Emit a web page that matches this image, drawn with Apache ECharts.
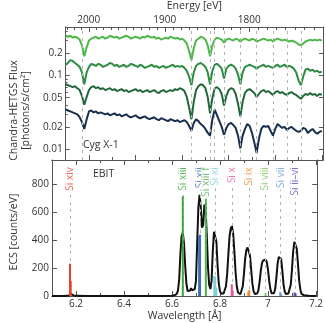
<!DOCTYPE html>
<html>
<head>
<meta charset="utf-8">
<script src="https://cdn.jsdelivr.net/npm/echarts@6/dist/echarts.min.js"></script>
<style>
html, body { margin: 0; padding: 0; background: #fff; }
#chart { width: 326px; height: 323px; }
</style>
</head>
<body>
<div id="chart"></div>
<script>
// wavelength grid of the Chandra spectra [A]
var wl = [
  6.10, 6.11, 6.12, 6.13, 6.14, 6.15, 6.16, 6.17, 6.18, 6.19,
  6.20, 6.21, 6.22, 6.23, 6.24, 6.25, 6.26, 6.27, 6.28, 6.29,
  6.30, 6.31, 6.32, 6.33, 6.34, 6.35, 6.36, 6.37, 6.38, 6.39,
  6.40, 6.41, 6.42, 6.43, 6.44, 6.45, 6.46, 6.47, 6.48, 6.49,
  6.50, 6.51, 6.52, 6.53, 6.54, 6.55, 6.56, 6.57, 6.58, 6.59,
  6.60, 6.61, 6.62, 6.63, 6.64, 6.65, 6.66, 6.67, 6.68, 6.69,
  6.70, 6.71, 6.72, 6.73, 6.74, 6.75, 6.76, 6.77, 6.78, 6.79,
  6.80, 6.81, 6.82, 6.83, 6.84, 6.85, 6.86, 6.87, 6.88, 6.89,
  6.90, 6.91, 6.92, 6.93, 6.94, 6.95, 6.96, 6.97, 6.98, 6.99,
  7.00, 7.01, 7.02, 7.03, 7.04, 7.05, 7.06, 7.07, 7.08, 7.09,
  7.10, 7.11, 7.12, 7.13, 7.14, 7.15, 7.16, 7.17, 7.18, 7.19, 7.20
];

// Cyg X-1 fluxes [photons/s/cm2], four observations
var fluxA = [
  .346, .336, .346, .326, .336, .326, .307, .256, .183, .241,
  .298, .316, .326, .336, .316, .326, .336, .316, .326, .346,
  .336, .326, .336, .316, .326, .336, .346, .336, .316, .326,
  .336, .326, .316, .336, .326, .346, .336, .326, .336, .316,
  .326, .307, .316, .326, .316, .336, .326, .316, .326, .307,
  .316, .298, .272, .213, .162, .234, .298, .316, .336, .326,
  .307, .256, .183, .256, .307, .326, .316, .307, .280, .307,
  .316, .307, .298, .316, .307, .289, .307, .316, .307, .298,
  .316, .307, .289, .298, .307, .316, .307, .298, .307, .289,
  .307, .316, .307, .298, .307, .298, .289, .298, .289, .280,
  .264, .256, .272, .289, .298, .307, .298, .307, .298, .307, .298
];
var fluxB = [
  .140, .148, .162, .158, .148, .140, .131, .110, .076, .110,
  .131, .144, .140, .135, .144, .140, .131, .135, .140, .148,
  .144, .135, .140, .131, .135, .140, .131, .135, .144, .140,
  .135, .131, .140, .135, .127, .131, .135, .140, .131, .135,
  .127, .131, .135, .127, .131, .135, .140, .131, .135, .131,
  .135, .127, .116, .097, .074, .110, .135, .144, .148, .140,
  .131, .110, .076, .116, .140, .144, .135, .124, .091, .124,
  .135, .140, .135, .124, .103, .076, .110, .131, .135, .140,
  .135, .131, .124, .131, .135, .140, .131, .135, .131, .127,
  .135, .140, .131, .135, .140, .131, .135, .131, .124, .110,
  .086, .074, .097, .120, .124, .116, .120, .113, .116, .110, .113
];
var fluxC = [
  .0761, .0739, .0717, .0695, .0717, .0674, .0635, .0529, .0403, .0513,
  .0635, .0695, .0717, .0674, .0695, .0654, .0674, .0635, .0654, .0674,
  .0635, .0654, .0616, .0635, .0654, .0616, .0635, .0597, .0616, .0635,
  .0654, .0616, .0635, .0597, .0616, .0635, .0597, .0616, .0635, .0597,
  .0580, .0616, .0635, .0597, .0616, .0635, .0616, .0654, .0635, .0674,
  .0654, .0616, .0513, .0368, .0256, .0441, .0635, .0717, .0761, .0739,
  .0674, .0513, .0307, .0498, .0674, .0695, .0654, .0562, .0391, .0529,
  .0635, .0674, .0654, .0562, .0415, .0280, .0441, .0580, .0635, .0654,
  .0616, .0580, .0513, .0562, .0616, .0635, .0597, .0616, .0580, .0546,
  .0597, .0616, .0580, .0597, .0562, .0546, .0580, .0597, .0562, .0546,
  .0513, .0483, .0529, .0562, .0546, .0580, .0546, .0562, .0529, .0562, .0546
];
var fluxD = [
  .0346, .0336, .0326, .0316, .0307, .0298, .0272, .0234, .0189, .0256,
  .0326, .0336, .0316, .0326, .0307, .0316, .0307, .0298, .0307, .0289,
  .0298, .0307, .0289, .0298, .0280, .0289, .0298, .0280, .0272, .0280,
  .0289, .0272, .0264, .0272, .0280, .0264, .0256, .0264, .0272, .0256,
  .0248, .0264, .0256, .0248, .0241, .0256, .0248, .0241, .0248, .0234,
  .0241, .0248, .0234, .0207, .0178, .0227, .0256, .0241, .0220, .0207,
  .0189, .0167, .0153, .0256, .0346, .0289, .0241, .0201, .0158, .0195,
  .0220, .0227, .0213, .0195, .0153, .0103, .0153, .0189, .0220, .0207,
  .0167, .0124, .0089, .0140, .0189, .0207, .0201, .0207, .0178, .0153,
  .0189, .0220, .0207, .0195, .0201, .0183, .0195, .0201, .0189, .0178,
  .0172, .0178, .0195, .0189, .0167, .0178, .0189, .0172, .0162, .0172, .0178
];

// EBIT measurement [counts/eV]
var ebitWl = [
  6.10, 6.15, 6.17, 6.175, 6.18, 6.185, 6.19, 6.20, 6.25, 6.30, 6.40, 6.50, 6.55,
  6.60, 6.61, 6.62, 6.625, 6.63, 6.635, 6.64, 6.645, 6.65, 6.655, 6.66, 6.665,
  6.67, 6.675, 6.68, 6.685, 6.69, 6.695, 6.70, 6.705, 6.71, 6.715, 6.72, 6.725,
  6.73, 6.735, 6.74, 6.745, 6.75, 6.755, 6.76, 6.765, 6.77, 6.775, 6.78, 6.785,
  6.79, 6.795, 6.80, 6.805, 6.81, 6.815, 6.82, 6.825, 6.83, 6.835, 6.84, 6.845,
  6.85, 6.855, 6.86, 6.865, 6.87, 6.875, 6.88, 6.885, 6.89, 6.895, 6.90, 6.905,
  6.91, 6.915, 6.92, 6.925, 6.93, 6.935, 6.94, 6.945, 6.95, 6.955, 6.96, 6.965,
  6.97, 6.975, 6.98, 6.985, 6.99, 6.995, 7.00, 7.005, 7.01, 7.015, 7.02, 7.025,
  7.03, 7.035, 7.04, 7.045, 7.05, 7.055, 7.06, 7.065, 7.07, 7.075, 7.08, 7.085,
  7.09, 7.095, 7.10, 7.105, 7.11, 7.115, 7.12, 7.125, 7.13, 7.135, 7.14, 7.15,
  7.17, 7.20
];
var ebitCounts = [
  0, 0, 3, 10, 14, 10, 4, 1, 0, 0, 0, 0, 0,
  2, 5, 15, 40, 120, 300, 430, 455, 380, 220, 90, 35,
  25, 40, 55, 40, 35, 50, 110, 380, 640, 725, 640, 490,
  510, 655, 630, 440, 210, 80, 50, 110, 320, 460, 468, 390,
  220, 90, 35, 18, 14, 18, 30, 70, 160, 300, 430, 485,
  500, 445, 320, 170, 70, 25, 12, 12, 25, 70, 160, 270,
  330, 348, 340, 290, 190, 90, 35, 15, 12, 18, 40, 100,
  180, 235, 255, 250, 260, 245, 190, 110, 50, 20, 14, 20,
  50, 130, 230, 280, 288, 265, 180, 80, 30, 14, 14, 18,
  30, 80, 190, 320, 388, 394, 340, 230, 110, 45, 15, 5,
  2, 0
];

// model line sticks per ion
var ionNames = ['Si xiv', 'Si xiii', 'Si xii', 'Si xiii f', 'Si xi', 'Si x', 'Si ix', 'Si viii', 'Si vii', 'Si ii\u2013vi'];
var ionColors = ['#e8412c', '#3aaa3a', '#3d6bb5', '#4fb34f', '#7fd0d8', '#e6589e', '#f08c2e', '#7cc655', '#6a9ad8', '#5b4db0'];
var ionWl = [6.175, 6.645, 6.716, 6.741, 6.779, 6.85, 6.92, 6.99, 7.053, 7.113];
var stickWl = [
  [6.175, 6.178], [6.645], [6.713, 6.717], [6.741], [6.776, 6.780, 6.785],
  [6.849, 6.853], [6.918, 6.922], [6.99], [7.051, 7.055], [7.111, 7.115]
];
var stickH = [
  [232, 108], [715], [430, 440], [700], [145, 140, 60],
  [85, 40], [30, 42], [20], [28, 15], [25, 18]
];

// axis ticks
var wlMajor = [6.2, 6.4, 6.6, 6.8, 7.0, 7.2];
var wlMinor = [6.1, 6.3, 6.5, 6.7, 6.9, 7.1];
var energyMajor = [2000, 1900, 1800];
var energyMinor = [2030, 2020, 2010, 1990, 1980, 1970, 1960, 1950, 1940, 1930, 1920, 1910,
  1890, 1880, 1870, 1860, 1850, 1840, 1830, 1820, 1810, 1790, 1780, 1770, 1760, 1750, 1740, 1730];
var fluxTicks = [0.01, 0.02, 0.05, 0.1, 0.2];
var fluxMinor = [0.03, 0.04, 0.06, 0.07, 0.08, 0.09, 0.3, 0.4];
var ecsTicks = [0, 200, 400, 600, 800];

var HC = 12.39842; // keV*A
var xMin = 6.1, xMax = 7.205;
var frame = '#555';
var txt = '#333';
var font = 'Open Sans';

function lg(a) { return a.map(function (v) { return Math.log10(v); }); }
function toWl(a) { return a.map(function (e) { return HC / e * 1000; }); }

function axis(grid, pos, min, max, ticks, len, label, extra) {
  var a = {
    type: 'value', gridIndex: grid, position: pos, min: min, max: max,
    axisLine: { show: true, onZero: false, lineStyle: { color: frame, width: 1 } },
    axisTick: { show: true, inside: true, length: len, customValues: ticks, lineStyle: { color: frame } },
    axisLabel: label ? Object.assign({ show: true, color: txt, fontSize: 10, fontFamily: font, margin: 3, customValues: ticks }, label) : { show: false },
    splitLine: { show: false }
  };
  return Object.assign(a, extra || {});
}

var wlFmt = function (v) { return String(+v.toFixed(2)); };

var xAxes = [
  axis(0, 'bottom', xMin, xMax, wlMajor, 5, null),
  axis(0, 'bottom', xMin, xMax, wlMinor, 3, null),
  axis(0, 'top', xMin, xMax, toWl(energyMajor), 5, {
    formatter: function (v) { return String(Math.round(HC / v * 1000)); }, margin: 2
  }, {
    name: 'Energy [eV]', nameLocation: 'middle', nameGap: 15,
    nameTextStyle: { color: txt, fontSize: 10.5, fontFamily: font }
  }),
  axis(0, 'top', xMin, xMax, toWl(energyMinor), 3, null),
  axis(1, 'top', xMin, xMax, wlMajor, 5, null),
  axis(1, 'top', xMin, xMax, wlMinor, 3, null),
  axis(1, 'bottom', xMin, xMax, wlMajor, 5, { formatter: wlFmt, margin: 3 }, {
    name: 'Wavelength [\u00c5]', nameLocation: 'middle', nameGap: 15,
    nameTextStyle: { color: txt, fontSize: 10.5, fontFamily: font }
  }),
  axis(1, 'bottom', xMin, xMax, wlMinor, 3, null)
];

var yTopMin = -2.145, yTopMax = -0.342;
var yAxes = [
  axis(0, 'left', yTopMin, yTopMax, lg(fluxTicks), 4, {
    formatter: function (v) { return String(+Math.pow(10, v).toPrecision(1)); }
  }, {
    name: 'Chandra-HETGS Flux\n[photons/s/cm\u00b2]', nameLocation: 'middle', nameGap: 29,
    nameTextStyle: { color: txt, fontSize: 10.5, fontFamily: font, lineHeight: 12, padding: [0, 34, 0, 0] }
  }),
  axis(0, 'left', yTopMin, yTopMax, lg(fluxMinor), 2, null),
  axis(0, 'right', yTopMin, yTopMax, lg(fluxTicks), 4, null),
  axis(1, 'left', 0, 975, ecsTicks, 5, {}, {
    name: 'ECS [counts/eV]', nameLocation: 'middle', nameGap: 32,
    nameTextStyle: { color: txt, fontSize: 10.5, fontFamily: font, padding: [0, 8, 0, 0] }
  }),
  axis(1, 'right', 0, 975, ecsTicks, 5, null)
];

var curveColors = ['#4cb848', '#2c8c40', '#20683a', '#172f4c'];
var curves = [fluxA, fluxB, fluxC, fluxD].map(function (f, k) {
  return {
    type: 'line', xAxisIndex: 0, yAxisIndex: 0, z: 3,
    showSymbol: false, animation: false,
    lineStyle: { color: curveColors[k], width: 2 },
    data: wl.map(function (x, i) { return [x, Math.log10(f[i])]; })
  };
});

var sticks = [];
stickWl.forEach(function (xs, k) {
  xs.forEach(function (x, j) {
    sticks.push({ value: [x, stickH[k][j]], itemStyle: { color: ionColors[k] } });
  });
});

var labelTop = 930;
var dashStyle = { type: [3, 4], color: '#b3b3b3', width: 1 };

var series = [
  {
    type: 'line', xAxisIndex: 0, yAxisIndex: 0, z: 1, data: [], animation: false,
    markLine: {
      silent: true, symbol: 'none', animation: false, label: { show: false },
      lineStyle: dashStyle,
      data: ionWl.map(function (x) { return { xAxis: x }; })
    }
  }
].concat(curves).concat([
  {
    type: 'line', xAxisIndex: 6, yAxisIndex: 3, z: 4, showSymbol: false, animation: false,
    lineStyle: { color: '#111', width: 2 },
    data: ebitWl.map(function (x, i) { return [x, ebitCounts[i]]; }),
    markLine: {
      silent: true, symbol: 'none', animation: false, label: { show: false },
      lineStyle: dashStyle,
      data: ionWl.map(function (x) { return [{ coord: [x, 0] }, { coord: [x, labelTop] }]; })
    }
  },
  {
    type: 'bar', xAxisIndex: 6, yAxisIndex: 3, z: 6, barWidth: 2, animation: false,
    data: sticks
  },
  {
    type: 'scatter', xAxisIndex: 6, yAxisIndex: 3, z: 8, symbolSize: 0, animation: false,
    label: {
      show: true, position: 'inside', rotate: 90, align: 'right', verticalAlign: 'middle',
      fontSize: 10, fontFamily: font, backgroundColor: '#fff', padding: [0, 1, 0, 2]
    },
    data: ionWl.map(function (x, i) {
      return { value: [x, labelTop], label: { formatter: ionNames[i], color: ionColors[i] } };
    })
  }
]);

var chart = echarts.init(document.getElementById('chart'));
chart.setOption({
  animation: false,
  textStyle: { fontFamily: font },
  grid: [
    { left: 52, top: 23, width: 271, height: 137 },
    { left: 52, top: 160, width: 271, height: 136 }
  ],
  xAxis: xAxes,
  yAxis: yAxes,
  graphic: [
    { type: 'text', left: 83, top: 140, style: { text: 'Cyg X-1', fill: txt, font: '10.5px "Open Sans"' } },
    { type: 'text', left: 93, top: 169, style: { text: 'EBIT', fill: txt, font: '10.5px "Open Sans"' } }
  ],
  series: series
});
</script>
</body>
</html>
